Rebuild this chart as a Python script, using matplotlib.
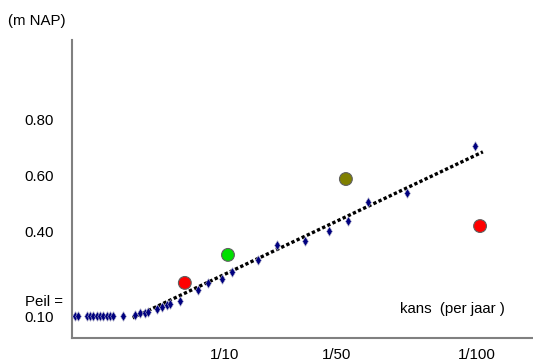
import numpy as np
import matplotlib.pyplot as plt
import matplotlib.transforms as mtransforms

plt.rcParams["font.family"] = ["Liberation Sans", "DejaVu Sans"]

# Waarnemingen (x in jaren herhalingstijd, y in m NAP)
obs_x = [-43.6, -42.5, -39.3, -38.2, -37.1, -35.7, -34.6, -33.6, -32.1,
         -31.1, -30.0, -26.4, -22.1, -20.4, -18.6, -17.5, -14.3, -12.5,
         -10.7, -9.6, -6.1, 0.4, 3.9, 8.9, 12.5, 21.8, 28.6, 38.6, 47.1,
         53.9, 61.1, 75.0, 99.3]
obs_y = [0.10, 0.10, 0.10, 0.10, 0.10, 0.10, 0.10, 0.10, 0.10,
         0.10, 0.10, 0.10, 0.103, 0.11, 0.11, 0.114, 0.125, 0.132,
         0.139, 0.143, 0.154, 0.193, 0.218, 0.232, 0.257, 0.30, 0.354,
         0.368, 0.404, 0.439, 0.507, 0.539, 0.707]

# Trendlijn
trend_x = [-22.9, 102.1]
trend_y = [0.093, 0.686]

# Losse gebeurtenissen
event_x = [-4.3, 11.1, 53.2, 101.1]
event_y = [0.218, 0.318, 0.589, 0.421]
event_colors = ["#ff0000", "#00e000", "#808000", "#ff0000"]

xticks = [10, 50, 100]
xtick_labels = ["1/10", "1/50", "1/100"]
yticks = [0.10, 0.40, 0.60, 0.80]
ytick_labels = ["Peil =\n0.10", "0.40", "0.60", "0.80"]

fig = plt.figure(figsize=(5.33, 3.63), dpi=100)
ax = fig.add_axes([0.135, 0.069, 0.865, 0.821])

ax.plot(trend_x, trend_y, color="black", linestyle=(0, (1, 0.7)),
        linewidth=2.4, zorder=2)
ax.scatter(obs_x, obs_y, marker="d", s=24, color="#000080",
           edgecolors="#b0b0c8", linewidths=0.4, zorder=3)
ax.scatter(event_x, event_y, s=85, c=event_colors,
           edgecolors="#606060", linewidths=0.8, zorder=4)

ax.set_xlim(-44.6, 120)
ax.set_ylim(0.0214, 1.0857)

ax.set_xticks(xticks)
ax.set_xticklabels(xtick_labels, fontsize=10.8)
ax.set_yticks(yticks)
ax.set_yticklabels(ytick_labels, fontsize=10.8)
for lab in ax.get_yticklabels():
    lab.set_horizontalalignment("left")
ax.tick_params(axis="y", length=0, pad=34)
ax.tick_params(axis="x", length=0, pad=7)

# "Peil =" label iets omhoog, zoals in het origineel
peil = ax.get_yticklabels()[0]
peil.set_transform(peil.get_transform() +
                   mtransforms.ScaledTranslation(0, 6 / 72, fig.dpi_scale_trans))

for side in ["top", "right"]:
    ax.spines[side].set_visible(False)
for side in ["left", "bottom"]:
    ax.spines[side].set_color("#808080")
    ax.spines[side].set_linewidth(1.5)

ax.text(72.5, 0.11, "kans  (per jaar )", fontsize=10.8)
fig.text(0.015, 0.93, "(m NAP)", fontsize=10.8)

plt.savefig("out.png", dpi=100)
